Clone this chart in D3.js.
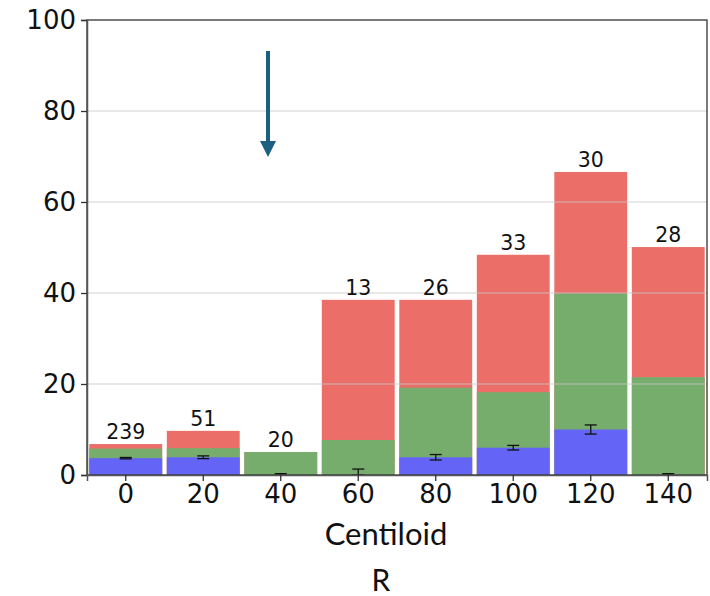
<!DOCTYPE html>
<html><head><meta charset="utf-8">
<script src="https://cdn.jsdelivr.net/npm/d3@7"></script>
<style>body{margin:0;background:#fff}</style>
</head><body>
<svg id="c" width="710" height="596"></svg>
<script>
const categories = ["0","20","40","60","80","100","120","140"];
const blueVals  = [3.7, 3.9, 0, 0, 3.9, 6.0, 10.0, 0];
const greenTops = [5.8, 5.9, 5.05, 7.7, 19.2, 18.2, 39.9, 21.5];
const redTops   = [6.8, 9.7, 5.05, 38.5, 38.5, 48.4, 66.6, 50.1];
const errLow    = [3.55, 3.6, 0, 0, 3.3, 5.5, 9.0, 0];
const errHigh   = [3.85, 4.2, 0.3, 1.3, 4.5, 6.5, 11.0, 0.3];
const counts    = ["239","51","20","13","26","33","30","28"];
const yTicks    = [0,20,40,60,80,100];

const svg = d3.select("#c");
const L=87, R=707, T=20, B=475;
const x = d3.scaleBand().domain(categories).range([L,R]).paddingInner(0.06).paddingOuter(0.03);
const y = d3.scaleLinear().domain([0,100]).range([B,T]);
const colors = {red:"#eb6e69", green:"#77ad6c", blue:"#6464f6"};

const g = svg.append("g");
categories.forEach((c,i)=>{
  g.append("rect").attr("x",x(c)).attr("width",x.bandwidth())
    .attr("y",y(redTops[i])).attr("height",y(0)-y(redTops[i])).attr("fill",colors.red);
  g.append("rect").attr("x",x(c)).attr("width",x.bandwidth())
    .attr("y",y(greenTops[i])).attr("height",y(0)-y(greenTops[i])).attr("fill",colors.green);
  if(blueVals[i]>0) g.append("rect").attr("x",x(c)).attr("width",x.bandwidth())
    .attr("y",y(blueVals[i])).attr("height",y(0)-y(blueVals[i])).attr("fill",colors.blue);
});
// gridlines on top
yTicks.filter(t=>t>0 && t<100).forEach(t=>{
  svg.append("line").attr("x1",L).attr("x2",R).attr("y1",y(t)).attr("y2",y(t))
    .attr("stroke","#c8c8c8").attr("stroke-width",1.2).attr("opacity",0.8);
});
// error bars
categories.forEach((c,i)=>{
  const cx = x(c)+x.bandwidth()/2;
  const eg = svg.append("g").attr("stroke","#111").attr("stroke-width",1.3);
  eg.append("line").attr("x1",cx).attr("x2",cx).attr("y1",y(errLow[i])).attr("y2",y(errHigh[i]));
  eg.append("line").attr("x1",cx-6).attr("x2",cx+6).attr("y1",y(errLow[i])).attr("y2",y(errLow[i]));
  eg.append("line").attr("x1",cx-6).attr("x2",cx+6).attr("y1",y(errHigh[i])).attr("y2",y(errHigh[i]));
});
// count labels
categories.forEach((c,i)=>{
  svg.append("text").attr("x",x(c)+x.bandwidth()/2).attr("y",y(redTops[i])-5)
    .attr("text-anchor","middle").attr("font-family","DejaVu Sans").attr("font-size",20.5)
    .attr("fill","#111").text(counts[i]);
});
// frame
svg.append("rect").attr("x",L).attr("y",T).attr("width",R-L).attr("height",B-T)
  .attr("fill","none").attr("stroke","#333").attr("stroke-width",1.3);
// axes
const ya = svg.append("g").attr("transform",`translate(${L},0)`)
  .call(d3.axisLeft(y).tickValues(yTicks).tickSize(6).tickPadding(5));
const xa = svg.append("g").attr("transform",`translate(0,${B})`)
  .call(d3.axisBottom(x).tickSize(6).tickPadding(4));
[ya,xa].forEach(a=>{
  a.select(".domain").attr("stroke","#555").attr("stroke-width",1.5);
  a.selectAll(".tick line").attr("stroke","#333").attr("stroke-width",1.3);
  a.selectAll(".tick text").attr("font-family","DejaVu Sans").attr("font-size",26).attr("fill","#111");
});
// axis title
svg.append("text").attr("x",386).attr("y",545).attr("text-anchor","middle")
  .attr("font-family","Lato").attr("font-size",31).attr("fill","#111").text("Centiloid");
svg.append("text").attr("x",381).attr("y",591).attr("text-anchor","middle")
  .attr("font-family","Lato").attr("font-size",30).attr("fill","#111").text("R");
// arrow
const ax = 268;
svg.append("line").attr("x1",ax).attr("x2",ax).attr("y1",51).attr("y2",145)
  .attr("stroke","#1b5f82").attr("stroke-width",4);
svg.append("path").attr("d",`M${ax-8},141 L${ax+8},141 L${ax},157 Z`).attr("fill","#1b5f82");
</script>
</body></html>
